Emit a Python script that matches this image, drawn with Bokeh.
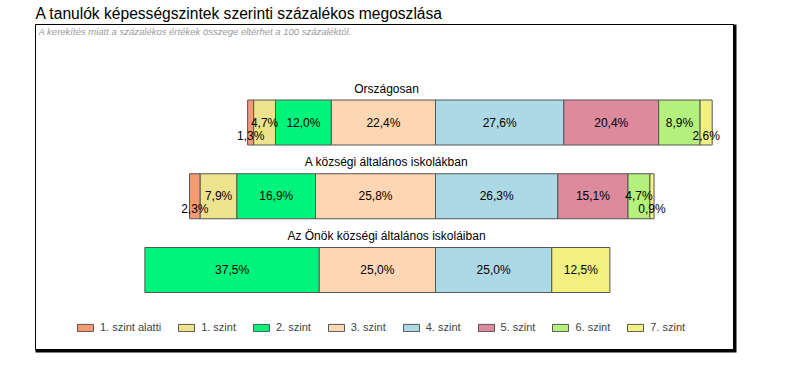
from bokeh.plotting import figure
from bokeh.models import ColumnDataSource, Range1d, Legend, LegendItem
from bokeh.core.properties import value
from bokeh.embed import file_html
from bokeh.resources import INLINE

# ---- data ----
title_text = "A tanulók képességszintek szerinti százalékos megoszlása"
note_text = "A kerekítés miatt a százalékos értékek összege eltérhet a 100 százaléktól."
levels = ["1. szint alatti", "1. szint", "2. szint", "3. szint",
          "4. szint", "5. szint", "6. szint", "7. szint"]
colors = ["#F79A72", "#EDE38C", "#00F47C", "#FDD6B4",
          "#ADD8E6", "#DC8A9C", "#B4F07C", "#F2F080"]
groups = ["Országosan", "A községi általános iskolákban",
          "Az Önök községi általános iskoláiban"]
orszagos = [1.3, 4.7, 12.0, 22.4, 27.6, 20.4, 8.9, 2.6]
kozsegi = [2.3, 7.9, 16.9, 25.8, 26.3, 15.1, 4.7, 0.9]
onok = [0.0, 0.0, 37.5, 25.0, 25.0, 0.0, 0.0, 12.5]
series = [orszagos, kozsegi, onok]

FONT = "Liberation Sans"

# ---- pixel geometry helpers (layout only) ----
W, H = 794, 378
X0_PX, PX_PER_PCT = 435.0, 4.65      # pixel of the 3./4. szint boundary
ROW0_PX, PX_PER_ROW = 122.0, 73.75   # pixel centre of first row


def px2x(px):
    return (px - X0_PX) / PX_PER_PCT


def py2y(py):
    return (py - ROW0_PX) / PX_PER_ROW


p = figure(width=W, height=H, output_backend="svg", toolbar_location=None,
           x_range=Range1d(px2x(0), px2x(W)),
           y_range=Range1d(py2y(H), py2y(0)),
           min_border=0, min_border_left=0, min_border_right=0,
           min_border_top=0, min_border_bottom=0)
p.axis.visible = False
p.grid.visible = False
p.outline_line_color = None
p.background_fill_color = "white"
p.border_fill_color = "white"

# chart box with thick right/bottom edge
p.quad(left=[px2x(35)], right=[px2x(736)], top=[py2y(24)], bottom=[py2y(352)],
       fill_color="black", line_color=None)
p.quad(left=[px2x(35)], right=[px2x(733)], top=[py2y(24)], bottom=[py2y(349)],
       fill_color="white", line_color="black", line_width=1)

# main title and note
p.text(x=[px2x(35)], y=[py2y(13)], text=[title_text], text_font=value(FONT),
       text_font_size="15.6px", text_baseline="middle", text_align="left",
       text_color="black")
p.text(x=[px2x(38)], y=[py2y(31)], text=[note_text], text_font=value(FONT),
       text_font_size="9.5px", text_font_style="italic", text_baseline="middle",
       text_align="left", text_color="#9a9a9a")

BAR_H = 45.0 / PX_PER_ROW

# compute segments
seg = {lvl: dict(y=[], left=[], right=[]) for lvl in levels}
lab = dict(x=[], y=[], text=[], yo=[])
for gi, vals in enumerate(series):
    start = -sum(vals[:4])
    for li, v in enumerate(vals):
        if v > 0:
            seg[levels[li]]["y"].append(gi)
            seg[levels[li]]["left"].append(start)
            seg[levels[li]]["right"].append(start + v)
            lab["x"].append(start + v / 2)
            lab["y"].append(gi)
            lab["text"].append(("%.1f%%" % v).replace(".", ","))
            lab["yo"].append(13 if v < 3 else 0)
        start += v

items = []
for li, lvl in enumerate(levels):
    src = ColumnDataSource(seg[lvl])
    r = p.hbar(y="y", left="left", right="right", height=BAR_H, source=src,
               fill_color=colors[li], line_color="#555555", line_width=1)
    items.append(LegendItem(label=lvl, renderers=[r]))

p.text(x="x", y="y", text="text", y_offset="yo", source=ColumnDataSource(lab),
       text_font=value(FONT), text_font_size="12px", text_align="center",
       text_baseline="middle", text_color="black")

# row titles, centred in the chart box
p.text(x=[px2x(386)] * 3, y=list(range(len(groups))), text=groups,
       y_offset=-34, text_font=value(FONT), text_font_size="12px",
       text_align="center", text_baseline="middle", text_color="black")

legend = Legend(items=items, orientation="horizontal", location=(75, 45),
                padding=0, margin=0, spacing=15, glyph_width=20,
                glyph_height=9, label_standoff=5, label_height=12,
                label_text_font=FONT, label_text_font_size="11px",
                border_line_color=None, background_fill_alpha=0)
p.add_layout(legend, "center")

open("out.html", "w").write(file_html(p, INLINE))
